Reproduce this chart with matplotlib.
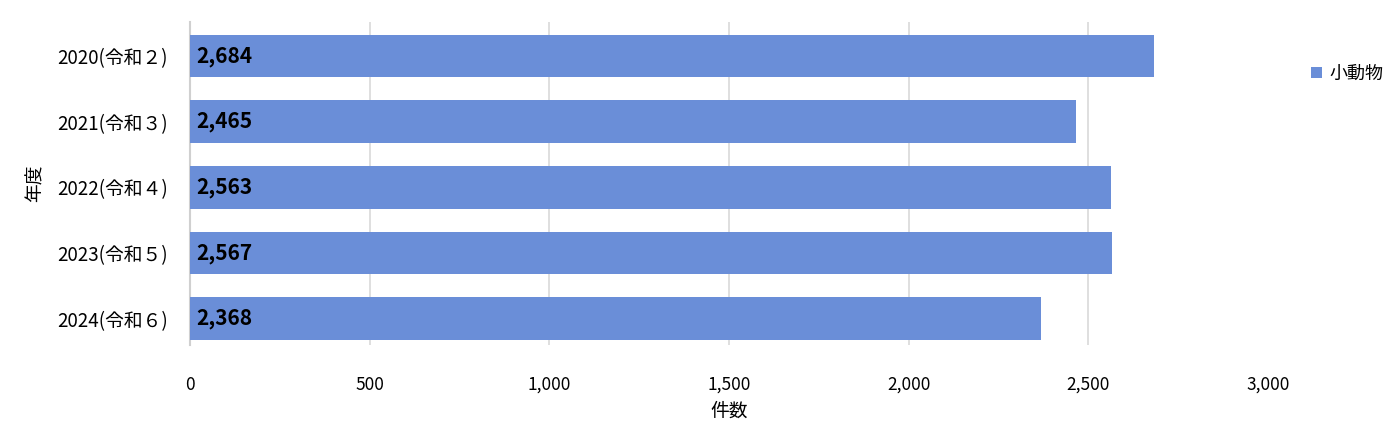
import matplotlib
matplotlib.use('Agg')
import matplotlib.pyplot as plt

plt.rcParams['font.family'] = ['Noto Sans CJK JP', 'DejaVu Sans']

# data
years = ['2020(令和２)', '2021(令和３)', '2022(令和４)', '2023(令和５)', '2024(令和６)']
counts = [2684, 2465, 2563, 2567, 2368]
series_name = '小動物'
x_ticks = [0, 500, 1000, 1500, 2000, 2500, 3000]

bar_color = '#6A8ED8'

fig = plt.figure(figsize=(13.84, 4.41), dpi=100)
ax = fig.add_axes([0.1373, 0.2177, 0.7789, 0.7324])

pos = list(range(len(years)))
ax.barh(pos, counts, height=0.65, color=bar_color, label=series_name, zorder=3)

for p, v in zip(pos, counts):
    ax.text(18, p, f'{v:,}', va='center', ha='left', fontsize=15,
            fontweight='bold', color='black', zorder=4)

ax.set_ylim(4.4, -0.52)
ax.set_yticks(pos)
ax.set_yticklabels(years, fontsize=13.5)
ax.set_xlim(0, 3000)
ax.set_xticks(x_ticks)
ax.set_xticklabels([f'{t:,}' for t in x_ticks], fontsize=12.5)
ax.tick_params(axis='both', length=0)
ax.tick_params(axis='x', pad=22)
ax.tick_params(axis='y', pad=16)

# gridlines (none at the right edge)
for t in x_ticks[1:-1]:
    ax.axvline(t, color='#D9D9D9', linewidth=1.2, zorder=0)
for s in ['top', 'right', 'bottom']:
    ax.spines[s].set_visible(False)
ax.spines['left'].set_color('#D0D0D0')
ax.spines['left'].set_linewidth(1.5)

ax.set_xlabel('件数', fontsize=13.5, labelpad=5)
ax.set_ylabel('年度', fontsize=13.5, labelpad=8)

ax.legend(loc='center left', bbox_to_anchor=(1.025, 0.84), frameon=False,
          fontsize=13, handlelength=0.6, handleheight=0.6, handletextpad=0.4)

fig.savefig('out.png', dpi=100)
